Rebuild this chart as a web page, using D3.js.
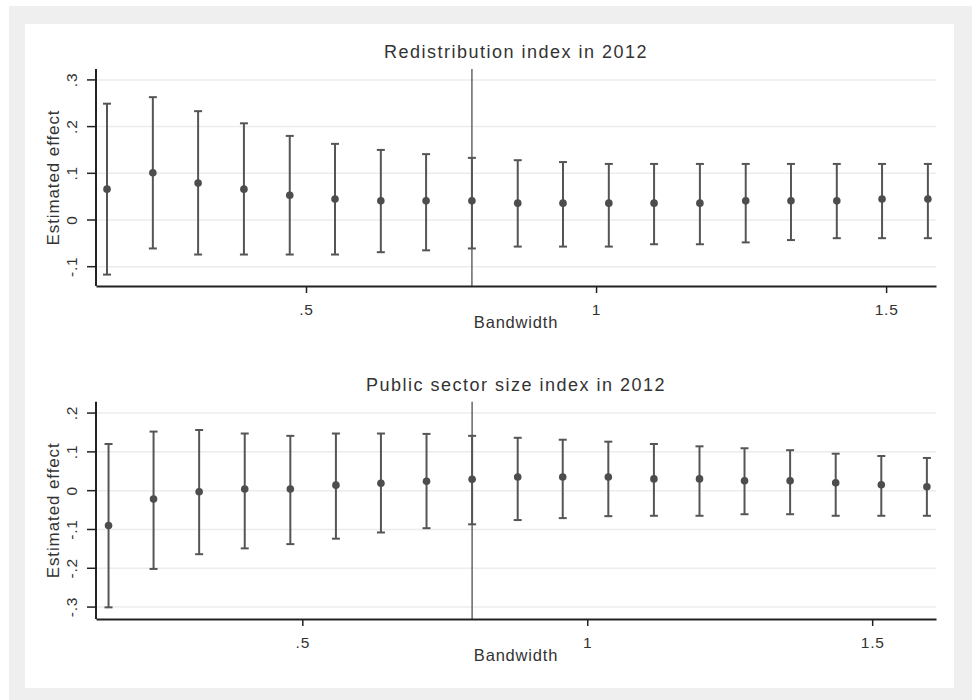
<!doctype html>
<html lang="en">
<head>
<meta charset="UTF-8">
<title>Estimated effect by bandwidth</title>
<script src="https://cdn.jsdelivr.net/npm/d3@7"></script>
<style>
  body { margin: 0; background: #fff; }
  svg text { font-family: "Liberation Sans", Arial, sans-serif; fill: #333; }
  .domain { stroke: #222; stroke-width: 2px; }
  .tick line { stroke: #222; stroke-width: 1.5px; }
  .grid .tick line { stroke: #ececec; stroke-width: 1.5px; }
  .grid .domain { display: none; }
</style>
</head>
<body>
<script>
// panel 1: redistribution index
var bwRedis = [0.157, 0.236, 0.314, 0.393, 0.472, 0.550, 0.629, 0.707, 0.786, 0.865, 0.943, 1.022, 1.100, 1.179, 1.258, 1.336, 1.415, 1.493, 1.572];
var estRedis = [0.065, 0.100, 0.078, 0.065, 0.052, 0.044, 0.040, 0.040, 0.040, 0.035, 0.035, 0.035, 0.035, 0.035, 0.040, 0.040, 0.040, 0.044, 0.044];
var hiRedis = [0.248, 0.262, 0.232, 0.206, 0.179, 0.162, 0.149, 0.140, 0.132, 0.127, 0.123, 0.119, 0.119, 0.119, 0.119, 0.119, 0.119, 0.119, 0.119];
var loRedis = [-0.118, -0.062, -0.075, -0.075, -0.075, -0.075, -0.070, -0.066, -0.062, -0.058, -0.058, -0.058, -0.053, -0.053, -0.049, -0.044, -0.040, -0.040, -0.040];
var optRedis = 0.786;

// panel 2: public sector size index
var bwPublic = [0.160, 0.239, 0.319, 0.399, 0.479, 0.559, 0.638, 0.718, 0.798, 0.878, 0.957, 1.037, 1.117, 1.197, 1.276, 1.356, 1.436, 1.516, 1.596];
var estPublic = [-0.091, -0.023, -0.004, 0.003, 0.003, 0.013, 0.018, 0.023, 0.028, 0.034, 0.034, 0.034, 0.029, 0.029, 0.024, 0.024, 0.019, 0.014, 0.009];
var hiPublic = [0.119, 0.151, 0.155, 0.146, 0.140, 0.146, 0.146, 0.145, 0.140, 0.135, 0.130, 0.125, 0.119, 0.113, 0.108, 0.103, 0.094, 0.088, 0.083];
var loPublic = [-0.302, -0.203, -0.165, -0.150, -0.139, -0.125, -0.109, -0.098, -0.088, -0.077, -0.072, -0.067, -0.066, -0.066, -0.062, -0.062, -0.066, -0.066, -0.066];
var optPublic = 0.798;

var titles = ["Redistribution index in 2012", "Public sector size index in 2012"];
var xTicks = [0.5, 1, 1.5];
var xTickLabels = [".5", "1", "1.5"];
var yTicksRedis = [-0.1, 0, 0.1, 0.2, 0.3];
var yTickLabelsRedis = ["-.1", "0", ".1", ".2", ".3"];
var yTicksPublic = [-0.3, -0.2, -0.1, 0, 0.1, 0.2];
var yTickLabelsPublic = ["-.3", "-.2", "-.1", "0", ".1", ".2"];

var w = 977, h = 700;
var left = 96, right = 936;

var svg = d3.select("body").append("svg").attr("width", w).attr("height", h);

svg.append("rect").attr("x", 9).attr("y", 6).attr("width", 963).attr("height", 694).attr("fill", "#efefef");
svg.append("rect").attr("x", 25).attr("y", 24).attr("width", 929).attr("height", 664).attr("fill", "#fff");

var panels = [
    {title: titles[0], bw: bwRedis, est: estRedis, hi: hiRedis, lo: loRedis, opt: optRedis,
     xDom: [0.138, 1.586], yDom: [-0.1424, 0.3223], yTicks: yTicksRedis, yLabels: yTickLabelsRedis,
     top: 69, bottom: 286},
    {title: titles[1], bw: bwPublic, est: estPublic, hi: hiPublic, lo: loPublic, opt: optPublic,
     xDom: [0.138, 1.612], yDom: [-0.332, 0.228], yTicks: yTicksPublic, yLabels: yTickLabelsPublic,
     top: 401.7, bottom: 619}
];

panels.forEach(function (p) {
    var x = d3.scaleLinear().domain(p.xDom).range([left, right]);
    var y = d3.scaleLinear().domain(p.yDom).range([p.bottom, p.top]);
    var g = svg.append("g");

    // gridlines
    g.append("g").attr("class", "grid")
        .attr("transform", "translate(" + left + ",0)")
        .call(d3.axisLeft(y).tickValues(p.yTicks).tickSize(-(right - left)).tickFormat(""));

    // optimal bandwidth marker
    g.append("line")
        .attr("x1", x(p.opt)).attr("x2", x(p.opt))
        .attr("y1", p.top).attr("y2", p.bottom)
        .attr("stroke", "#666").attr("stroke-width", 1.5);

    var rows = p.bw.map(function (b, i) {
        return {b: b, est: p.est[i], hi: p.hi[i], lo: p.lo[i]};
    });

    var bars = g.selectAll(".bar").data(rows).enter().append("g").attr("class", "bar");
    bars.append("line")
        .attr("x1", function (d) { return x(d.b); })
        .attr("x2", function (d) { return x(d.b); })
        .attr("y1", function (d) { return y(d.hi); })
        .attr("y2", function (d) { return y(d.lo); })
        .attr("stroke", "#555").attr("stroke-width", 2);
    ["hi", "lo"].forEach(function (k) {
        bars.append("line")
            .attr("x1", function (d) { return x(d.b) - 4; })
            .attr("x2", function (d) { return x(d.b) + 4; })
            .attr("y1", function (d) { return y(d[k]); })
            .attr("y2", function (d) { return y(d[k]); })
            .attr("stroke", "#555").attr("stroke-width", 2);
    });
    bars.append("circle")
        .attr("cx", function (d) { return x(d.b); })
        .attr("cy", function (d) { return y(d.est); })
        .attr("r", 3.8)
        .attr("fill", "#4d4d4d");

    // axes
    var yAxis = g.append("g")
        .attr("transform", "translate(" + left + ",0)")
        .call(d3.axisLeft(y).tickValues(p.yTicks).tickSize(9).tickSizeOuter(0)
            .tickFormat(function (d, i) { return p.yLabels[i]; }));
    yAxis.select(".domain").attr("d", "M0," + p.top + "V" + p.bottom);
    yAxis.selectAll("text")
        .attr("x", 0).attr("dy", 0)
        .attr("text-anchor", "middle")
        .attr("transform", "translate(-19,0) rotate(-90)")
        .style("font-size", "15.5px").style("letter-spacing", "0.8px").style("fill", "#333");

    var xAxis = g.append("g")
        .attr("transform", "translate(0," + p.bottom + ")")
        .call(d3.axisBottom(x).tickValues(xTicks).tickSize(7).tickSizeOuter(0)
            .tickFormat(function (d, i) { return xTickLabels[i]; }));
    xAxis.selectAll("text")
        .attr("y", 29).attr("dy", 0)
        .style("font-size", "15.5px").style("letter-spacing", "0.8px").style("fill", "#333");

    // titles
    g.append("text")
        .attr("x", (left + right) / 2).attr("y", p.top - 11)
        .attr("text-anchor", "middle")
        .style("font-size", "18px").style("letter-spacing", "1.5px")
        .text(p.title);

    g.append("text")
        .attr("x", (left + right) / 2).attr("y", p.bottom + 42)
        .attr("text-anchor", "middle")
        .style("font-size", "16.5px").style("letter-spacing", "0.8px")
        .text("Bandwidth");

    g.append("text")
        .attr("transform", "translate(59," + (p.top + p.bottom) / 2 + ") rotate(-90)")
        .attr("text-anchor", "middle")
        .style("font-size", "17px").style("letter-spacing", "0.9px")
        .text("Estimated effect");
});
</script>
</body>
</html>
